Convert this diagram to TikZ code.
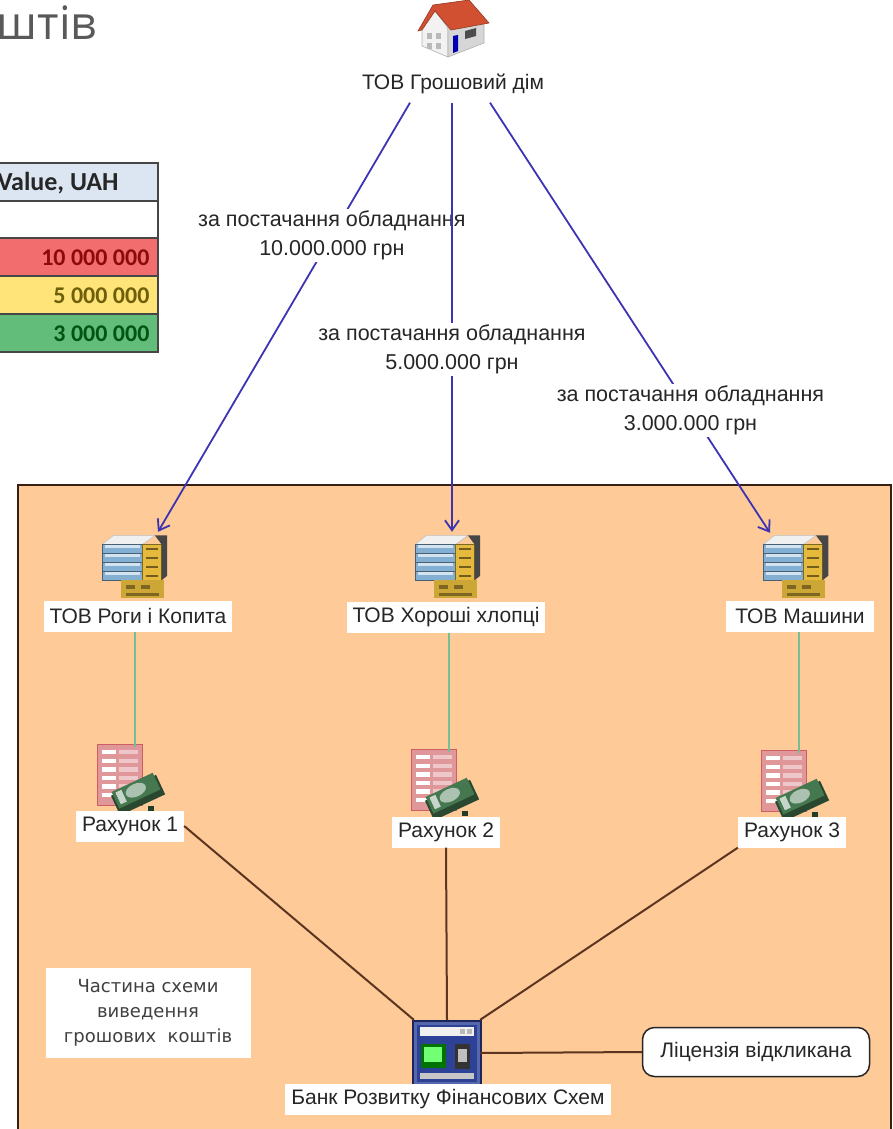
\documentclass[tikz,border=0pt]{standalone}
\usepackage{fontspec}
\setmainfont{Liberation Sans}
\newfontfamily\titlefont{Open Sans}
\newfontfamily\tablefont{Carlito}
\newfontfamily\notefont{DejaVu Sans}
\usetikzlibrary{arrows.meta,calc}

\definecolor{orangebg}{RGB}{253,202,152}
\definecolor{arrowblue}{RGB}{62,52,178}
\definecolor{greenline}{RGB}{118,190,150}
\definecolor{brownline}{RGB}{92,52,32}
\definecolor{headblue}{RGB}{220,230,242}
\definecolor{redfill}{RGB}{242,110,110}
\definecolor{yellowfill}{RGB}{255,228,122}
\definecolor{greenfill}{RGB}{98,188,122}
\definecolor{redtext}{RGB}{140,10,10}
\definecolor{yellowtext}{RGB}{110,95,10}
\definecolor{greentext}{RGB}{0,85,20}
\definecolor{tableborder}{RGB}{70,70,70}
\definecolor{srvblue}{RGB}{130,175,210}
\definecolor{srvyellow}{RGB}{228,185,60}
\definecolor{invred}{RGB}{205,95,100}
\definecolor{moneyg}{RGB}{70,120,80}
\definecolor{atmblue}{RGB}{45,65,150}
\definecolor{roofred}{RGB}{210,80,50}

\tikzset{
  lbl/.style={fill=white, inner xsep=6pt, inner ysep=0pt, minimum height=31pt,
    font=\fontsize{21}{24}\selectfont, text=black!85},
  arrlbl/.style={fill=white, inner sep=2pt, align=center,
    font=\fontsize{21.5}{29}\selectfont, text=black!85},
  iconbox/.style={inner sep=0pt, minimum width=#1, minimum height=#1},
  flow/.style={draw=arrowblue, line width=1.8pt,
    -{Straight Barb[length=10pt,width=14pt,line width=1.8pt]}},
  gline/.style={draw=greenline, line width=2pt},
  bline/.style={draw=brownline, line width=2pt},
  tabrow/.style={draw=tableborder, line width=1.3pt},
  tabtxt/.style={anchor=east, font=\tablefont\bfseries\fontsize{24}{28}\selectfont},
  house/.pic={
    \fill[gray!10, draw=gray!60, line width=0.6pt] (-30,-3) -- (-17,-20) -- (-4,-3) -- (-4,26) -- (-30,15) -- cycle;
    \fill[gray!32, draw=gray!60, line width=0.6pt] (-4,-3) -- (32,-11) -- (32,12) -- (-4,26) -- cycle;
    \fill[roofred, draw=roofred!70!black, line width=0.6pt] (-34,0) -- (-19,-26) -- (17,-31) -- (37,-8) -- (-1,-1) -- (-17,-20) -- (-30,-1) -- cycle;
    \fill[gray!55] (-25,2) rectangle (-20,8);
    \fill[gray!55] (-16,2) rectangle (-11,8);
    \fill[gray!55] (-25,12) rectangle (-20,18);
    \fill[gray!55] (-16,12) rectangle (-11,18);
    \fill[blue!70!black] (1,5) -- (6,4) -- (6,20) -- (1,22) -- cycle;
    \fill[gray!60!black] (13,0) -- (24,-3) -- (24,5) -- (13,8) -- cycle;
  },
  server/.pic={
    \begin{scope}[scale=1.12]
    \fill[gray!12, draw=gray!50, line width=0.5pt] (-31,-22) -- (-21,-30) -- (16,-30) -- (5,-22) -- cycle;
    \foreach \i in {0,1,2,3}{
      \fill[srvblue, draw=srvblue!55!black, line width=0.5pt] (-31,-22+\i*8) rectangle (5,-14+\i*8);
      \fill[srvblue!35!white] (-29,-21+\i*8) rectangle (3,-19+\i*8);
    }
    \fill[srvyellow, draw=srvyellow!55!black, line width=0.5pt] (5,-22) rectangle (22,10);
    \foreach \i in {0,1,2,3}{
      \fill[srvyellow!50!black] (8,-19+\i*8) rectangle (19,-17+\i*8);
    }
    \fill[gray!55!black] (22,-22) -- (16,-30) -- (27,-30) -- (27,6) -- (22,10) -- cycle;
    \fill[srvyellow!90!black] (-14,10) rectangle (24,26);
    \fill[srvyellow!55!black] (-10,14) rectangle (-2,18);
    \fill[srvyellow!55!black] (4,14) rectangle (12,18);
    \fill[srvyellow!55!black] (-10,21) rectangle (20,24);
    \end{scope}
  },
  invoice/.pic={
    \begin{scope}[scale=1.08]
    \fill[invred!65!white, draw=invred, line width=0.8pt] (-35,-31) rectangle (7,25);
    \foreach \j in {0,...,5}{
      \fill[white] (-31,-26+\j*8) rectangle (-18,-22+\j*8);
      \fill[invred!35!white] (-15,-26+\j*8) rectangle (3,-22+\j*8);
    }
    \begin{scope}[shift={(2,14)}, rotate=25]
      \fill[moneyg!60!black] (-23,-8) rectangle (23,12);
      \fill[moneyg] (-21,-11) rectangle (21,6);
      \fill[moneyg!45!white] (0,-3) ellipse (10pt and 6pt);
      \fill[moneyg!30!white] (-18,-9) rectangle (-12,3);
    \end{scope}
    \fill[moneyg!50!black] (12,26) rectangle (18,31);
    \end{scope}
  },
  atm/.pic={
    \fill[atmblue!60!black] (-35,-33) rectangle (35,34);
    \fill[atmblue!80!white] (-33,-31) rectangle (33,32);
    \fill[atmblue] (-30,-28) rectangle (30,29);
    \fill[gray!12] (-27,-26) rectangle (27,-17);
    \fill[gray!55] (13,-24) rectangle (18,-19);
    \fill[gray!55] (20,-24) rectangle (25,-19);
    \fill[green!45!black] (-26,-9) rectangle (-1,15);
    \fill[green!55!white] (-23,-6) rectangle (-5,9);
    \fill[black!80] (8,-9) rectangle (23,16);
    \fill[gray!50] (11,-4) rectangle (20,9);
    \fill[gray!45] (-27,20) rectangle (27,26);
  }
}

\begin{document}
\begin{tikzpicture}[x=1pt,y=-1pt]
\useasboundingbox (0,0) rectangle (893,1129);
\fill[white] (0,0) rectangle (893,1129);

% orange area
\draw[fill=orangebg, draw=brownline!60!black, line width=1.2pt] (18,485) rectangle (891,1145);

% title fragment
\node[anchor=base east, inner sep=0pt, text=gray!70!black, font=\titlefont\fontsize{46}{50}\selectfont] (title) at (97,40) {штів};

% table
\path[tabrow, fill=headblue] (-20,163) rectangle (158,201);
\path[tabrow, fill=white] (-20,201) rectangle (158,238);
\path[tabrow, fill=redfill] (-20,238) rectangle (158,276);
\path[tabrow, fill=yellowfill] (-20,276) rectangle (158,314);
\path[tabrow, fill=greenfill] (-20,314) rectangle (158,352);
\node[tabtxt, text=black!85, font=\tablefont\bfseries\fontsize{26}{28}\selectfont] (vh) at (122,183) {Value, UAH};
\node[tabtxt, text=redtext] (v1) at (153,258) {10 000 000};
\node[tabtxt, text=yellowtext] (v2) at (153,296) {5 000 000};
\node[tabtxt, text=greentext] (v3) at (153,334) {3 000 000};

% icons
\node[iconbox=66pt] (house) at (452,31) {};
\pic at (house) {house};
\node[iconbox=66pt] (s1) at (137,569) {};
\pic at (s1) {server};
\node[iconbox=66pt] (s2) at (450,569) {};
\pic at (s2) {server};
\node[iconbox=66pt] (s3) at (798,569) {};
\pic at (s3) {server};
\node[iconbox=62pt] (i1) at (135,778) {};
\pic at (i1) {invoice};
\node[iconbox=62pt] (i2) at (449,783) {};
\pic at (i2) {invoice};
\node[iconbox=62pt] (i3) at (799,784) {};
\pic at (i3) {invoice};
\node[iconbox=66pt] (atm) at (447,1053) {};
\pic at (atm) {atm};

% labels
\node[lbl, fill=white] (gd) at (453,84) {ТОВ Грошовий дім};
\node[lbl] (l1) at (138,616) {ТОВ Роги і Копита};
\node[lbl] (l2) at (446,617) {ТОВ Хороші хлопці};
\node[lbl, inner xsep=9pt] (l3) at (800,616) {ТОВ Машини};
\node[lbl] (r1) at (130,826) {Рахунок 1};
\node[lbl] (r2) at (446,832) {Рахунок 2};
\node[lbl] (r3) at (792,832) {Рахунок 3};
\node[lbl] (bank) at (448,1099) {Банк Розвитку Фінансових Схем};
\node[draw=black!85, line width=1.5pt, rounded corners=12pt, fill=white,
      minimum width=227pt, minimum height=49pt, font=\fontsize{21}{24}\selectfont,
      text=black!85] (lic) at (756,1052) {Ліцензія відкликана};
\node[fill=white, minimum width=205pt, minimum height=90pt, align=center,
      font=\notefont\fontsize{18}{25}\selectfont, text=black!75] (part) at (148,1013)
      {Частина схеми\\виведення\\грошових\ \ коштів};

% arrow end points
\coordinate (a1s) at ($(gd.south)+(-43,3)$);
\coordinate (a2s) at ($(gd.south)+(-1,3)$);
\coordinate (a3s) at ($(gd.south)+(37,3)$);
\coordinate (a1e) at ($(s1.north)+(21,-4)$);
\coordinate (a2e) at ($(s2.north)+(2,-4)$);
\coordinate (a3e) at ($(s3.north)+(-28,-3)$);

% flows
\draw[flow] (a1s) -- node[arrlbl, pos=0.31] (f1) {за постачання обладнання\\10.000.000 грн} (a1e);
\draw[flow] (a2s) -- node[arrlbl, pos=0.575] (f2) {за постачання обладнання\\5.000.000 грн} (a2e);
\draw[flow] (a3s) -- node[arrlbl, pos=0.716] (f3) {за постачання обладнання\\3.000.000 грн} (a3e);

% green links
\draw[gline] (i1.north |- l1.south) -- (i1.north);
\draw[gline] (i2.north |- l2.south) -- (i2.north);
\draw[gline] (i3.north |- l3.south) -- (i3.north);

% brown links
\draw[bline] (r1.east) -- (atm.north west);
\draw[bline] (r2.south) -- (atm.north);
\draw[bline] (r3.south west) -- (atm.north east);
\draw[bline] (atm.east) -- (lic.west);
\end{tikzpicture}
\end{document}
